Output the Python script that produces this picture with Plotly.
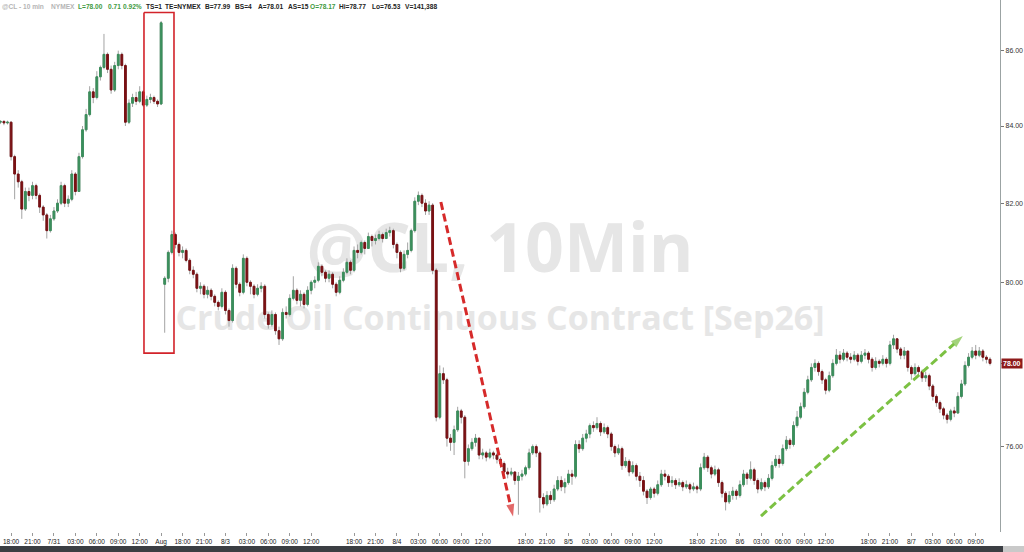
import math
import base64
import plotly.graph_objects as go

# ---------------- data (30-minute bars) ----------------
bar_index = list(range(278))

closes = [84.12, 84.08, 84.10, 83.2, 82.75, 82.55, 81.85, 82.3, 82.2, 82.45,
          82.2, 81.9, 81.7, 81.3, 81.6, 81.8, 82.0, 82.45, 82.0, 82.1,
          82.75, 82.3, 83.2, 83.9, 84.3, 84.9, 84.75, 85.3, 85.55, 85.9,
          85.5, 84.95, 85.6, 85.9, 85.6, 84.1, 84.6, 84.75, 84.65, 84.9,
          84.55, 84.7, 84.75, 84.65, 84.58, 86.75, 80.1, 80.75, 81.2, 80.95,
          80.75, 80.8, 80.55, 80.3, 80.2, 79.85, 79.9, 79.7, 79.8, 79.65,
          79.5, 79.4, 79.75, 79.3, 79.05, 80.35, 79.95, 79.75, 80.6, 80.0,
          79.9, 79.7, 79.85, 79.9, 79.2, 78.95, 79.2, 78.8, 78.6, 79.25,
          79.2, 79.6, 79.8, 79.55, 79.7, 79.45, 79.8, 80.0, 80.05, 80.4,
          80.25, 80.1, 80.2, 79.95, 79.75, 80.05, 80.25, 80.5, 80.3, 80.8,
          80.75, 81.0, 80.85, 81.15, 81.05, 81.1, 81.2, 81.1, 81.25, 81.3,
          80.95, 80.75, 80.35, 80.7, 80.8, 81.3, 82.05, 82.2, 82.0, 81.8,
          81.95, 80.3, 76.7, 77.75, 77.6, 76.2, 76.1, 76.4, 76.85, 76.7,
          75.65, 75.95, 76.1, 76.2, 75.8, 75.85, 75.75, 75.85, 75.8, 75.7,
          75.6, 75.4, 75.35, 75.4, 75.2, 75.3, 75.35, 75.5, 75.85, 76.0,
          75.85, 74.8, 74.65, 74.85, 74.75, 75.0, 75.2, 75.05, 75.15, 75.35,
          75.3, 76.05, 75.95, 76.2, 76.3, 76.5, 76.45, 76.55, 76.35, 76.45,
          76.3, 76.0, 75.85, 75.95, 75.55, 75.65, 75.4, 75.55, 75.3, 75.2,
          74.95, 74.8, 75.0, 74.9, 75.1, 75.35, 75.3, 75.15, 75.2, 75.1,
          75.15, 75.05, 75.1, 75.0, 75.05, 75.0, 75.5, 75.75, 75.5, 75.35,
          75.45, 75.15, 74.9, 74.7, 74.85, 74.95, 74.85, 75.1, 75.35, 75.25,
          75.45, 75.2, 75.0, 75.15, 75.05, 75.25, 75.55, 75.7, 75.6, 75.95,
          76.15, 76.05, 76.5, 76.7, 76.95, 77.3, 77.6, 77.9, 78.0, 77.8,
          77.6, 77.35, 77.7, 78.0, 78.2, 78.1, 78.25, 78.15, 78.1, 78.2,
          78.05, 78.2, 78.25, 78.1, 77.9, 78.05, 78.0, 78.1, 78.0, 78.45,
          78.6, 78.35, 78.2, 78.3, 77.9, 77.75, 77.9, 77.8, 77.65, 77.7,
          77.45, 77.2, 77.05, 76.9, 76.75, 76.65, 76.85, 76.8, 77.2, 77.5,
          77.95, 78.15, 78.3, 78.2, 78.3, 78.15, 78.1, 78.0]

opens = [84.10, 84.12, 84.08, 84.10, 83.2, 82.75, 82.55, 81.85, 82.3, 82.2,
         82.45, 82.2, 81.9, 81.7, 81.3, 81.6, 81.8, 82.0, 82.45, 82.0,
         82.1, 82.75, 82.3, 83.2, 83.9, 84.3, 84.9, 84.75, 85.3, 85.55,
         85.9, 85.5, 84.95, 85.6, 85.9, 85.6, 84.1, 84.6, 84.75, 84.65,
         84.9, 84.55, 84.7, 84.75, 84.65, 84.58, 79.95, 80.1, 80.75, 81.2,
         80.95, 80.75, 80.8, 80.55, 80.3, 80.2, 79.85, 79.9, 79.7, 79.8,
         79.65, 79.5, 79.4, 79.75, 79.3, 79.05, 80.35, 79.95, 79.75, 80.6,
         80.0, 79.9, 79.7, 79.85, 79.9, 79.2, 78.95, 79.2, 78.8, 78.6,
         79.25, 79.2, 79.6, 79.8, 79.55, 79.7, 79.45, 79.8, 80.0, 80.05,
         80.4, 80.25, 80.1, 80.2, 79.95, 79.75, 80.05, 80.25, 80.5, 80.3,
         80.8, 80.75, 81.0, 80.85, 81.15, 81.05, 81.1, 81.2, 81.1, 81.25,
         81.3, 80.95, 80.75, 80.35, 80.7, 80.8, 81.3, 82.05, 82.2, 82.0,
         81.8, 81.95, 80.3, 76.7, 77.75, 77.6, 76.2, 76.1, 76.4, 76.85,
         76.7, 75.65, 75.95, 76.1, 76.2, 75.8, 75.85, 75.75, 75.85, 75.8,
         75.7, 75.6, 75.4, 75.35, 75.4, 75.2, 75.3, 75.35, 75.5, 75.85,
         76.0, 75.85, 74.8, 74.65, 74.85, 74.75, 75.0, 75.2, 75.05, 75.15,
         75.35, 75.3, 76.05, 75.95, 76.2, 76.3, 76.5, 76.45, 76.55, 76.35,
         76.45, 76.3, 76.0, 75.85, 75.95, 75.55, 75.65, 75.4, 75.55, 75.3,
         75.2, 74.95, 74.8, 75.0, 74.9, 75.1, 75.35, 75.3, 75.15, 75.2,
         75.1, 75.15, 75.05, 75.1, 75.0, 75.05, 75.0, 75.5, 75.75, 75.5,
         75.35, 75.45, 75.15, 74.9, 74.7, 74.85, 74.95, 74.85, 75.1, 75.35,
         75.25, 75.45, 75.2, 75.0, 75.15, 75.05, 75.25, 75.55, 75.7, 75.6,
         75.95, 76.15, 76.05, 76.5, 76.7, 76.95, 77.3, 77.6, 77.9, 78.0,
         77.8, 77.6, 77.35, 77.7, 78.0, 78.2, 78.1, 78.25, 78.15, 78.1,
         78.2, 78.05, 78.2, 78.25, 78.1, 77.9, 78.05, 78.0, 78.1, 78.0,
         78.45, 78.6, 78.35, 78.2, 78.3, 77.9, 77.75, 77.9, 77.8, 77.65,
         77.7, 77.45, 77.2, 77.05, 76.9, 76.75, 76.65, 76.85, 76.8, 77.2,
         77.5, 77.95, 78.15, 78.3, 78.2, 78.3, 78.15, 78.1]

highs = [84.15, 84.15, 84.14, 84.12, 83.25, 82.85, 82.6, 82.4, 82.4, 82.55,
         82.5, 82.25, 81.95, 81.75, 81.7, 81.9, 82.1, 82.55, 82.5, 82.2,
         82.85, 82.8, 83.3, 84.0, 84.45, 85.05, 85.0, 85.45, 85.6, 86.45,
         85.95, 85.6, 85.7, 86.0, 85.95, 85.65, 84.7, 84.85, 84.9, 85.05,
         84.95, 84.8, 84.85, 84.8, 84.7, 86.8, 80.15, 80.8, 81.3, 81.25,
         81.0, 80.9, 80.85, 80.6, 80.4, 80.25, 80.0, 79.95, 79.9, 79.85,
         79.7, 79.55, 79.85, 79.8, 79.35, 80.45, 80.4, 80.0, 80.7, 80.65,
         80.05, 79.95, 79.95, 80.0, 79.95, 79.25, 79.3, 79.25, 78.9, 79.35,
         79.4, 79.7, 80.15, 79.85, 79.8, 79.75, 79.9, 80.05, 80.15, 80.5,
         80.45, 80.3, 80.3, 80.25, 80.0, 80.15, 80.35, 80.6, 80.55, 80.9,
         80.95, 81.05, 81.05, 81.25, 81.2, 81.2, 81.3, 81.25, 81.35, 81.4,
         81.35, 81.0, 80.8, 80.8, 81.0, 81.35, 82.15, 82.3, 82.25, 82.1,
         82.05, 82.0, 80.35, 77.95, 77.9, 77.65, 76.3, 76.5, 76.95, 76.9,
         76.75, 76.05, 76.2, 76.3, 76.2, 75.95, 75.9, 75.95, 75.9, 75.85,
         75.75, 75.65, 75.5, 75.5, 75.4, 75.4, 75.45, 75.55, 75.95, 76.05,
         76.05, 75.9, 74.9, 74.95, 74.95, 75.1, 75.3, 75.3, 75.25, 75.45,
         75.45, 76.15, 76.15, 76.3, 76.4, 76.55, 76.6, 76.7, 76.6, 76.55,
         76.5, 76.35, 76.05, 76.05, 76.0, 75.75, 75.7, 75.65, 75.6, 75.4,
         75.3, 75.0, 75.05, 75.05, 75.2, 75.45, 75.45, 75.35, 75.3, 75.25,
         75.25, 75.2, 75.2, 75.15, 75.15, 75.1, 75.6, 75.85, 75.8, 75.55,
         75.55, 75.5, 75.2, 74.95, 74.95, 75.05, 75.0, 75.2, 75.45, 75.4,
         75.65, 75.5, 75.25, 75.25, 75.2, 75.35, 75.65, 75.8, 75.8, 76.05,
         76.25, 76.2, 76.6, 76.85, 77.05, 77.4, 77.7, 78.0, 78.1, 78.05,
         77.85, 77.65, 77.8, 78.1, 78.35, 78.3, 78.35, 78.3, 78.25, 78.3,
         78.25, 78.3, 78.35, 78.3, 78.15, 78.15, 78.1, 78.2, 78.15, 78.55,
         78.7, 78.6, 78.4, 78.4, 78.3, 77.95, 78.0, 77.95, 77.85, 77.8,
         77.75, 77.5, 77.25, 77.1, 76.95, 76.8, 76.9, 76.95, 77.3, 77.6,
         78.05, 78.25, 78.4, 78.45, 78.4, 78.35, 78.2, 78.15]

lows = [84.05, 84.02, 84.04, 83.1, 82.1, 82.4, 81.6, 81.8, 82.05, 82.1,
        82.1, 81.75, 81.55, 81.1, 81.25, 81.55, 81.75, 81.95, 81.9, 81.9,
        82.05, 82.2, 82.3, 83.15, 83.85, 84.25, 84.6, 84.7, 85.2, 85.5,
        85.4, 84.85, 84.9, 85.5, 85.5, 84.0, 84.05, 84.5, 84.55, 84.6,
        84.5, 84.5, 84.6, 84.58, 84.5, 84.55, 78.75, 80.0, 80.7, 80.85,
        80.65, 80.6, 80.5, 80.2, 80.1, 79.75, 79.7, 79.6, 79.6, 79.55,
        79.4, 79.3, 79.35, 79.2, 78.9, 79.0, 79.85, 79.65, 79.7, 79.9,
        79.7, 79.6, 79.65, 79.75, 79.1, 78.85, 78.9, 78.7, 78.45, 78.55,
        79.1, 79.15, 79.55, 79.45, 79.4, 79.35, 79.4, 79.7, 79.85, 80.0,
        80.15, 80.0, 80.0, 79.85, 79.65, 79.7, 80.0, 80.2, 80.2, 80.25,
        80.6, 80.7, 80.7, 80.85, 80.9, 80.95, 81.05, 81.0, 81.1, 81.15,
        80.85, 80.6, 80.25, 80.3, 80.6, 80.75, 81.25, 81.95, 81.9, 81.7,
        81.7, 80.2, 76.6, 76.65, 77.5, 76.0, 75.9, 75.8, 76.35, 76.55,
        75.25, 75.55, 75.9, 76.0, 75.7, 75.7, 75.65, 75.7, 75.7, 75.6,
        75.5, 75.3, 75.25, 75.3, 75.1, 74.4, 75.2, 75.3, 75.45, 75.8,
        75.75, 74.45, 74.55, 74.6, 74.65, 74.7, 74.95, 74.95, 74.9, 75.1,
        75.1, 75.25, 75.85, 75.9, 76.1, 76.2, 76.35, 76.4, 76.25, 76.3,
        76.2, 75.9, 75.75, 75.8, 75.45, 75.5, 75.3, 75.35, 75.2, 75.05,
        74.85, 74.65, 74.75, 74.8, 74.85, 75.05, 75.2, 75.05, 75.05, 75.0,
        75.05, 74.95, 75.0, 74.9, 74.95, 74.9, 74.95, 75.45, 75.4, 75.25,
        75.3, 75.05, 74.8, 74.5, 74.65, 74.75, 74.75, 74.8, 75.05, 75.1,
        75.2, 75.1, 74.9, 74.95, 74.95, 75.0, 75.2, 75.5, 75.5, 75.55,
        75.9, 75.95, 76.0, 76.45, 76.65, 76.9, 77.25, 77.55, 77.8, 77.7,
        77.5, 77.25, 77.3, 77.65, 77.95, 78.0, 78.05, 78.05, 78.0, 78.05,
        77.95, 78.0, 78.1, 78.0, 77.8, 77.85, 77.9, 77.95, 77.9, 77.95,
        78.35, 78.25, 78.1, 78.1, 77.8, 77.6, 77.7, 77.7, 77.55, 77.55,
        77.35, 77.1, 76.95, 76.8, 76.65, 76.55, 76.6, 76.7, 76.8, 77.15,
        77.45, 77.9, 78.1, 78.1, 78.15, 78.05, 78.0, 77.95]

tick_bars = [3, 9, 15, 21, 27, 33, 39, 45,
             51, 57, 63, 69, 75, 81, 87,
             99, 105, 111, 117, 123, 129, 135,
             147, 153, 159, 165, 171, 177, 183,
             195, 201, 207, 213, 219, 225, 231,
             243, 249, 255, 261, 267, 273]
tick_labels = ["18:00", "21:00", "7/31", "03:00", "06:00", "09:00", "12:00", "Aug",
               "18:00", "21:00", "8/3", "03:00", "06:00", "09:00", "12:00",
               "18:00", "21:00", "8/4", "03:00", "06:00", "09:00", "12:00",
               "18:00", "21:00", "8/5", "03:00", "06:00", "09:00", "12:00",
               "18:00", "21:00", "8/6", "03:00", "06:00", "09:00", "12:00",
               "18:00", "21:00", "8/7", "03:00", "06:00", "09:00"]

price_ticks = [76, 78, 80, 82, 84, 86]
price_tick_labels = ["76.00", "78.00", "80.00", "82.00", "84.00", "86.00"]

last_price = 78.00
last_price_label = "78.00"

header_parts = [
    ("@CL - 10 min", 0, "#b5b5b5"), ("NYMEX", 49, "#b5b5b5"),
    ("L=78.00", 76, "#3f9a3f"), ("0.71", 106, "#3f9a3f"), ("0.92%", 121, "#3f9a3f"),
    ("TS=1", 144, "#222222"), ("TE=NYMEX", 163, "#222222"), ("B=77.99", 203, "#222222"),
    ("BS=4", 233, "#222222"), ("A=78.01", 256, "#222222"), ("AS=15", 286, "#222222"),
    ("O=78.17", 308, "#3f9a3f"), ("Hi=78.77", 337, "#222222"), ("Lo=76.53", 370, "#222222"),
    ("V=141,388", 403, "#222222"),
]

watermark_title = "@CL, 10Min"
watermark_subtitle = "Crude Oil Continuous Contract [Sep26]"

# annotation geometry (bar index, price)
highlight_box_x = [40.2, 48.6]
highlight_box_y = [78.25, 87.03]
down_arrow_x = [123.3, 143.5]
down_arrow_y = [82.03, 74.36]
up_arrow_x = [212.9, 269.4]
up_arrow_y = [74.37, 78.67]

UP = "#3b8f5c"
DOWN = "#7a1114"
WICK = "#a3a3a3"

body_hi = [max(o, c) for o, c in zip(opens, closes)]
body_lo = [min(o, c) for o, c in zip(opens, closes)]

fig = go.Figure()

# wicks (grey)
fig.add_trace(go.Candlestick(
    x=bar_index, open=opens, high=highs, low=lows, close=closes,
    increasing=dict(line=dict(color=WICK, width=1), fillcolor=WICK),
    decreasing=dict(line=dict(color=WICK, width=1), fillcolor=WICK),
    whiskerwidth=0, hoverinfo="skip", showlegend=False))

# bodies (coloured)
fig.add_trace(go.Candlestick(
    x=bar_index, open=opens, high=body_hi, low=body_lo, close=closes,
    increasing=dict(line=dict(color=UP, width=1), fillcolor=UP),
    decreasing=dict(line=dict(color=DOWN, width=1), fillcolor=DOWN),
    whiskerwidth=0, showlegend=False))

# red highlight box
bx0, bx1 = highlight_box_x
by0, by1 = highlight_box_y
fig.add_trace(go.Scatter(
    x=[bx0, bx1, bx1, bx0, bx0], y=[by1, by1, by0, by0, by1],
    mode="lines", line=dict(color="#d2232a", width=1.6),
    hoverinfo="skip", showlegend=False))

# dashed arrows
for ax, ay, col in [(down_arrow_x, down_arrow_y, "#d62a2a"),
                    (up_arrow_x, up_arrow_y, "#7cc143")]:
    fig.add_trace(go.Scatter(
        x=ax, y=ay, mode="lines+markers",
        line=dict(color=col, width=3, dash="8px,4px"),
        marker=dict(symbol=["circle", "arrow"], size=[7, 13], color=col,
                    angleref="previous", line=dict(width=0)),
        hoverinfo="skip", showlegend=False))

annotations = []
for text, px, col in header_parts:
    annotations.append(dict(
        text="<b>%s</b>" % text, x=px / 1000.0, y=1.0, xref="paper", yref="paper",
        xanchor="left", yanchor="top", yshift=-1, showarrow=False,
        font=dict(family="Liberation Sans, Arial", size=6.6, color=col)))

annotations.append(dict(
    text="<b>%s</b>" % last_price_label, x=1.0, xref="paper", xanchor="left", xshift=1,
    y=math.log10(last_price), yref="y", yanchor="middle", showarrow=False,
    bgcolor="#8e1b1b", borderpad=1,
    font=dict(family="Liberation Sans, Arial", size=7, color="white")))

shapes = [
    dict(type="rect", xref="paper", yref="paper", x0=0.15, x1=0.85, y0=0.48, y1=0.58,
         line=dict(width=0), fillcolor="rgba(0,0,0,0)", layer="below",
         label=dict(text=watermark_title, textposition="middle center",
                    font=dict(family="Open Sans", size=68, color="#e6e6e6", weight="bold"))),
    dict(type="rect", xref="paper", yref="paper", x0=0.1, x1=0.9, y0=0.36, y1=0.44,
         line=dict(width=0), fillcolor="rgba(0,0,0,0)", layer="below",
         label=dict(text=watermark_subtitle, textposition="middle center",
                    font=dict(family="Open Sans", size=34, color="#e6e6e6", weight="bold"))),
]


def solid_png_svg(color):
    svg = ('<svg xmlns="http://www.w3.org/2000/svg" width="10" height="10">'
           '<rect width="10" height="10" fill="%s"/></svg>' % color)
    return "data:image/svg+xml;base64," + base64.b64encode(svg.encode()).decode()


# bottom scroll-bar strip (decoration below the time axis)
images = [
    dict(source=solid_png_svg("#3b3e43"), xref="paper", yref="paper",
         x=0, y=-0.0263, sizex=1.003, sizey=0.0135, sizing="stretch",
         xanchor="left", yanchor="top", layer="above"),
    dict(source=solid_png_svg("#c9c9c9"), xref="paper", yref="paper",
         x=1.003, y=-0.0263, sizex=0.021, sizey=0.0135, sizing="stretch",
         xanchor="left", yanchor="top", layer="above"),
]

ytick_text = [lab if v != last_price else "" for v, lab in zip(price_ticks, price_tick_labels)]

fig.update_layout(
    width=1024, height=552,
    margin=dict(l=0, r=24, t=0, b=20),
    paper_bgcolor="white", plot_bgcolor="white",
    showlegend=False,
    annotations=annotations, shapes=shapes, images=images,
    xaxis=dict(range=[-0.1, 279.8], tickvals=tick_bars, ticktext=tick_labels,
               ticks="outside", ticklen=3, tickcolor="#999999", showgrid=False,
               zeroline=False, showline=False, rangeslider=dict(visible=False),
               tickfont=dict(family="Liberation Sans, Arial", size=6.5, color="#222222"),
               fixedrange=True),
    yaxis=dict(type="log", side="right",
               range=[math.log10(74.0), math.log10(87.37)],
               tickvals=price_ticks, ticktext=ytick_text,
               ticks="outside", ticklen=3, tickcolor="#777777",
               showline=True, linecolor="#9ba3a3", linewidth=1.2,
               showgrid=False, zeroline=False,
               tickfont=dict(family="Liberation Sans, Arial", size=7, color="#333333")),
)

fig.write_html("out.html", config={"displayModeBar": False},
               post_script="document.body.style.margin='0px';")
